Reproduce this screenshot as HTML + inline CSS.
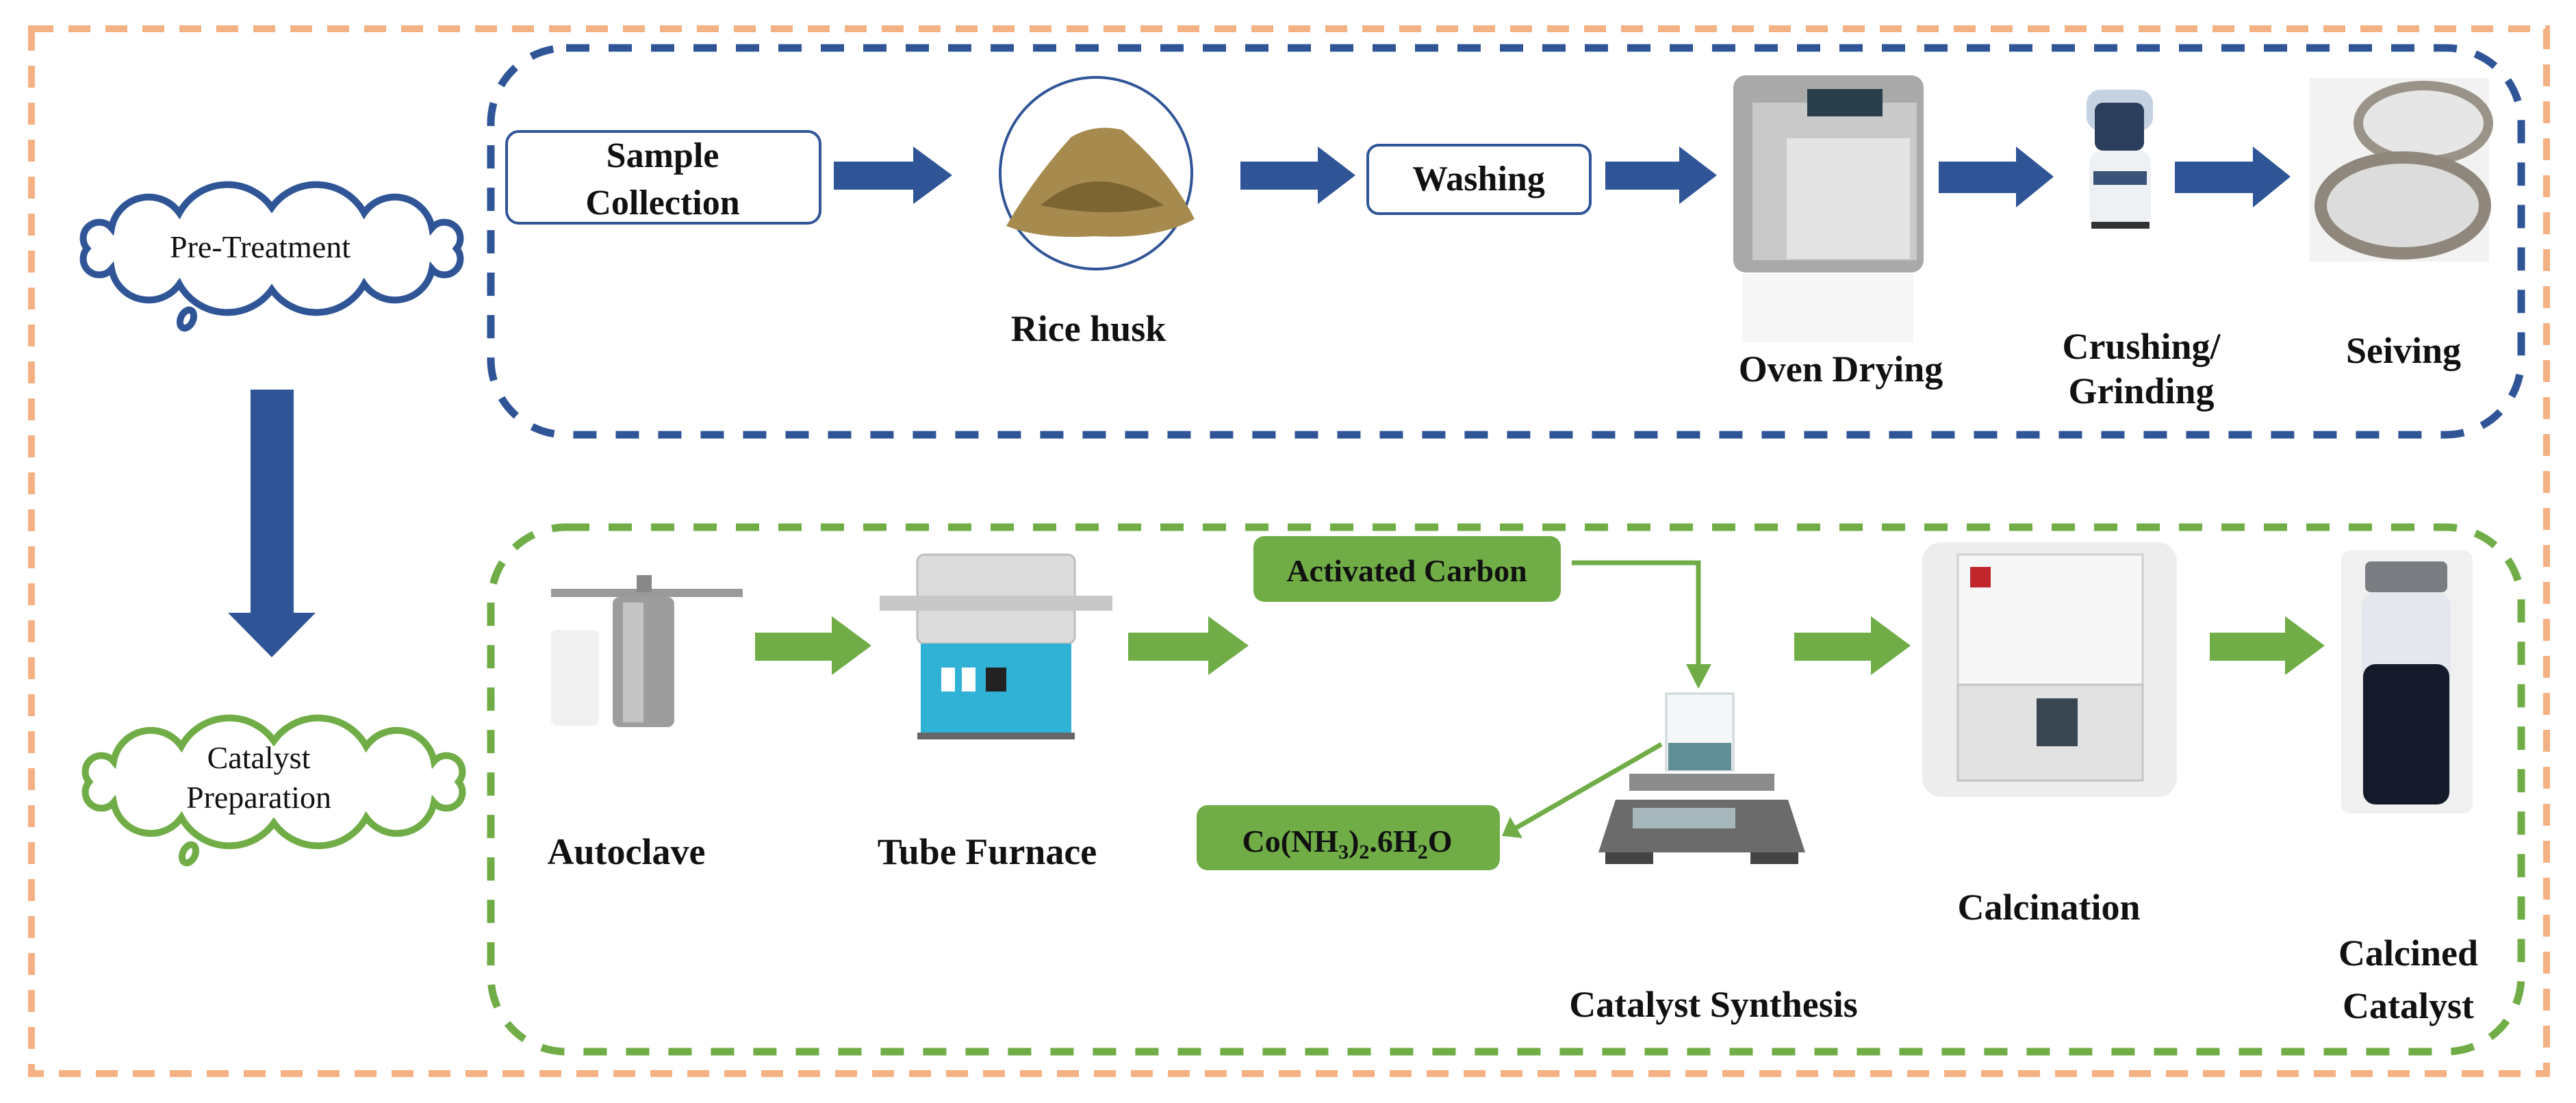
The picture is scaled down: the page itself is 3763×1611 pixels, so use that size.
<!DOCTYPE html>
<html><head><meta charset="utf-8"><style>
html,body{margin:0;padding:0;background:#fff}
svg{display:block}
text{font-family:"Liberation Serif","Times New Roman","DejaVu Serif",serif}
.b{font-weight:bold;fill:#111}
</style></head><body>
<svg width="3763" height="1611" viewBox="0 0 3763 1611" xmlns="http://www.w3.org/2000/svg" font-family="'Liberation Serif', 'Times New Roman', 'DejaVu Serif', serif">
<!-- outer orange -->
<rect x="46" y="42" width="3674" height="1526" fill="none" stroke="#f4b183" stroke-width="10" stroke-dasharray="32,22"/>
<!-- blue box -->
<rect x="717" y="70" width="2966" height="565" rx="110" fill="none" stroke="#2f5597" stroke-width="11" stroke-dasharray="34,28"/>
<!-- green box -->
<rect x="717" y="770" width="2966" height="766" rx="110" fill="none" stroke="#70ad47" stroke-width="11" stroke-dasharray="34,28"/>

<!-- clouds -->
<g fill="#fff" stroke="#2f5597" stroke-width="10">
<path d="M667,363 A1,1 0 0 1 631,393 A55,55 0 0 1 532,415 A80,80 0 0 1 397,423 A80,80 0 0 1 262,415 A55,55 0 0 1 163,393 A1,1 0 0 1 127,363 A1,1 0 0 1 163,333 A55,55 0 0 1 262,311 A80,80 0 0 1 397,303 A80,80 0 0 1 532,311 A55,55 0 0 1 631,333 A1,1 0 0 1 667,363 z"/>
<ellipse cx="273" cy="466" rx="9" ry="14" transform="rotate(25 273 466)"/>
</g>
<text x="380" y="376" font-size="46" text-anchor="middle" fill="#111" font-family="'Liberation Serif', serif">Pre-Treatment</text>
<g fill="#fff" stroke="#70ad47" stroke-width="10" transform="translate(3,779)">
<path d="M667,363 A1,1 0 0 1 631,393 A55,55 0 0 1 532,415 A80,80 0 0 1 397,423 A80,80 0 0 1 262,415 A55,55 0 0 1 163,393 A1,1 0 0 1 127,363 A1,1 0 0 1 163,333 A55,55 0 0 1 262,311 A80,80 0 0 1 397,303 A80,80 0 0 1 532,311 A55,55 0 0 1 631,333 A1,1 0 0 1 667,363 z"/>
<ellipse cx="273" cy="468" rx="9" ry="14" transform="rotate(25 273 468)"/>
</g>
<text x="378" y="1122" font-size="46" text-anchor="middle" fill="#111" font-family="'Liberation Serif', serif">Catalyst</text>
<text x="378" y="1180" font-size="46" text-anchor="middle" fill="#111" font-family="'Liberation Serif', serif">Preparation</text>

<!-- blue down arrow -->
<path d="M366,569 H429 V895 H461 L397,960 L333,895 H366 Z" fill="#2f5597"/>

<!-- top row -->
<rect x="740" y="192" width="458" height="134" rx="18" fill="#fff" stroke="#2f5597" stroke-width="4"/>
<text x="968" y="244" font-size="52" text-anchor="middle" class="b">Sample</text>
<text x="968" y="313" font-size="52" text-anchor="middle" class="b">Collection</text>
<path d="M1218,236 H1334 V214 L1391,256 L1334,298 V277 H1218 Z" fill="#2f5597"/>
<circle cx="1601" cy="253" r="140" fill="#fff" stroke="#2f5597" stroke-width="4"/>
<path d="M1470,330 Q1510,260 1565,200 Q1600,180 1640,190 Q1710,250 1745,320 Q1690,350 1600,345 Q1520,350 1470,330Z" fill="#a68a4e"/>
<path d="M1520,300 Q1600,230 1700,300 Q1620,320 1520,300Z" fill="#7d6433"/>
<text x="1590" y="498" font-size="54" text-anchor="middle" class="b">Rice husk</text>
<path d="M1812,236 H1925 V214 L1980,256 L1925,298 V277 H1812 Z" fill="#2f5597"/>
<rect x="1998" y="212" width="325" height="100" rx="16" fill="#fff" stroke="#2f5597" stroke-width="4"/>
<text x="2160" y="278" font-size="52" text-anchor="middle" class="b">Washing</text>
<path d="M2345,236 H2453 V214 L2508,256 L2453,298 V277 H2345 Z" fill="#2f5597"/>
<!-- oven -->
<rect x="2532" y="110" width="278" height="288" rx="18" fill="#a9a9a9"/>
<rect x="2560" y="150" width="240" height="230" fill="#c9c9c9"/>
<rect x="2610" y="202" width="180" height="176" fill="#e4e4e4"/>
<rect x="2640" y="130" width="110" height="40" fill="#2a3d4a"/>
<rect x="2545" y="400" width="250" height="100" fill="#f6f6f6"/>
<text x="2689" y="557" font-size="54" text-anchor="middle" class="b">Oven Drying</text>
<path d="M2832,236 H2945 V214 L3000,258 L2945,303 V282 H2832 Z" fill="#2f5597"/>
<!-- crusher -->
<rect x="3048" y="131" width="97" height="60" rx="20" fill="#c5d2e2"/>
<rect x="3060" y="150" width="72" height="70" rx="12" fill="#2b3f5c"/>
<rect x="3052" y="220" width="90" height="110" rx="18" fill="#eef1f4"/>
<rect x="3058" y="250" width="78" height="20" fill="#3b5378"/>
<rect x="3055" y="324" width="85" height="10" fill="#333"/>
<text x="3128" y="524" font-size="54" text-anchor="middle" class="b">Crushing/</text>
<text x="3128" y="589" font-size="54" text-anchor="middle" class="b">Grinding</text>
<path d="M3177,236 H3291 V214 L3346,258 L3291,303 V282 H3177 Z" fill="#2f5597"/>
<!-- sieve -->
<rect x="3374" y="114" width="262" height="268" fill="#f2f2f2"/>
<ellipse cx="3540" cy="180" rx="95" ry="55" fill="#e6e6e6" stroke="#9a9388" stroke-width="14"/>
<ellipse cx="3510" cy="300" rx="120" ry="70" fill="#dcdcdc" stroke="#8f877b" stroke-width="18"/>
<text x="3511" y="530" font-size="54" text-anchor="middle" class="b">Seiving</text>

<!-- bottom row -->
<rect x="805" y="920" width="70" height="140" rx="8" fill="#f1f1f1"/>
<rect x="805" y="860" width="280" height="12" fill="#9a9a9a"/>
<rect x="930" y="840" width="22" height="25" fill="#888"/>
<rect x="895" y="872" width="90" height="190" rx="10" fill="#9d9d9d"/>
<rect x="910" y="880" width="30" height="175" fill="#c4c4c4"/>
<text x="915" y="1262" font-size="54" text-anchor="middle" class="b">Autoclave</text>
<path d="M1103,924 H1215 V900 L1273,943 L1215,986 V965 H1103 Z" fill="#70ad47"/>
<rect x="1340" y="810" width="230" height="130" rx="10" fill="#dcdcdc" stroke="#bdbdbd" stroke-width="3"/>
<rect x="1285" y="870" width="340" height="22" fill="#c8c8c8"/>
<rect x="1345" y="940" width="220" height="130" fill="#2fb2d6"/>
<rect x="1375" y="975" width="20" height="35" fill="#fff"/><rect x="1405" y="975" width="20" height="35" fill="#fff"/>
<rect x="1440" y="975" width="30" height="35" fill="#222"/>
<rect x="1340" y="1070" width="230" height="10" fill="#666"/>
<text x="1442" y="1262" font-size="54" text-anchor="middle" class="b">Tube Furnace</text>
<path d="M1648,924 H1765 V900 L1824,943 L1765,986 V965 H1648 Z" fill="#70ad47"/>
<rect x="1831" y="783" width="449" height="96" rx="16" fill="#70ad47"/>
<text x="2055" y="849" font-size="46" text-anchor="middle" class="b">Activated Carbon</text>
<polyline points="2296,822 2481,822 2481,975" fill="none" stroke="#70ad47" stroke-width="7"/>
<path d="M2463,970 H2500 L2481,1006 Z" fill="#70ad47"/>
<rect x="1748" y="1176" width="443" height="95" rx="16" fill="#70ad47"/>
<text x="1968" y="1244" font-size="46" text-anchor="middle" class="b">Co(NH<tspan font-size="30" dy="10">3</tspan><tspan dy="-10">)</tspan><tspan font-size="30" dy="10">2</tspan><tspan dy="-10">.6H</tspan><tspan font-size="30" dy="10">2</tspan><tspan dy="-10">O</tspan></text>
<line x1="2427" y1="1087" x2="2215" y2="1209" stroke="#70ad47" stroke-width="7"/>
<path d="M2194,1221 L2206,1193 L2224,1224 Z" fill="#70ad47"/>
<rect x="2434" y="1013" width="98" height="112" fill="#f4f6f7" stroke="#cfd6d9" stroke-width="3"/>
<rect x="2437" y="1085" width="92" height="40" fill="#5f8f94"/>
<rect x="2380" y="1130" width="212" height="25" fill="#8c8c8c"/>
<path d="M2360,1168 H2612 L2637,1245 H2335 Z" fill="#6b6b6b"/>
<rect x="2385" y="1180" width="150" height="30" fill="#a7b8bd"/>
<rect x="2345" y="1245" width="70" height="17" fill="#444"/><rect x="2557" y="1245" width="70" height="17" fill="#444"/>
<text x="2503" y="1485" font-size="54" text-anchor="middle" class="b">Catalyst Synthesis</text>
<path d="M2621,924 H2733 V900 L2791,943 L2733,986 V965 H2621 Z" fill="#70ad47"/>
<rect x="2808" y="792" width="372" height="372" rx="28" fill="#ededed"/>
<rect x="2860" y="810" width="270" height="190" fill="#f7f7f7" stroke="#d0d0d0" stroke-width="3"/>
<rect x="2878" y="828" width="30" height="30" fill="#c0262c"/>
<rect x="2860" y="1000" width="270" height="140" fill="#e2e2e2" stroke="#c4c4c4" stroke-width="3"/>
<rect x="2975" y="1020" width="60" height="70" fill="#3a4652"/>
<text x="2993" y="1343" font-size="54" text-anchor="middle" class="b">Calcination</text>
<path d="M3228,924 H3338 V900 L3396,943 L3338,986 V965 H3228 Z" fill="#70ad47"/>
<rect x="3420" y="804" width="192" height="384" rx="14" fill="#f0f0f0"/>
<rect x="3455" y="820" width="120" height="45" rx="8" fill="#7a7e82"/>
<rect x="3450" y="865" width="130" height="310" rx="20" fill="#e4e8ee"/>
<rect x="3452" y="970" width="126" height="205" rx="18" fill="#141a2a"/>
<text x="3518" y="1410" font-size="54" text-anchor="middle" class="b">Calcined</text>
<text x="3518" y="1487" font-size="54" text-anchor="middle" class="b">Catalyst</text>
</svg>
</body></html>
